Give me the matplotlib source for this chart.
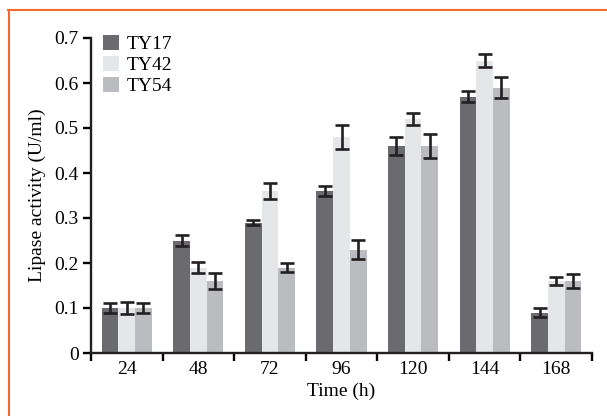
import matplotlib
matplotlib.use("Agg")
import matplotlib.pyplot as plt
import numpy as np
from matplotlib.lines import Line2D

# data
times = ["24", "48", "72", "96", "120", "144", "168"]
strains = ["TY17", "TY42", "TY54"]
ty17 = [0.10, 0.25, 0.29, 0.36, 0.46, 0.57, 0.09]
ty42 = [0.10, 0.19, 0.36, 0.48, 0.52, 0.65, 0.16]
ty54 = [0.10, 0.16, 0.19, 0.23, 0.46, 0.59, 0.16]
ty17_err = [0.012, 0.013, 0.006, 0.012, 0.021, 0.012, 0.009]
ty42_err = [0.013, 0.012, 0.018, 0.027, 0.014, 0.015, 0.008]
ty54_err = [0.012, 0.017, 0.011, 0.022, 0.027, 0.023, 0.016]
colors = ["#6b6b6f", "#e5e6e8", "#bbbcbf"]


def main():
    plt.rcParams["font.family"] = ["Liberation Serif", "DejaVu Serif"]
    plt.rcParams["font.size"] = 14

    fig = plt.figure(figsize=(6.07, 4.16), dpi=100)
    ax = fig.add_axes([91 / 607, 1 - 353 / 416, (592 - 91) / 607, (353 - 38) / 416])

    x = np.arange(len(times))
    w = 0.233
    series = [ty17, ty42, ty54]
    errs = [ty17_err, ty42_err, ty54_err]
    for i, (vals, err) in enumerate(zip(series, errs)):
        ax.bar(x + (i - 1) * w, vals, width=w, color=colors[i], label=strains[i],
               yerr=err, capsize=5, zorder=2,
               error_kw=dict(ecolor="#231f20", elinewidth=1.9, capthick=1.9))

    ax.set_xlim(-0.5, len(times) - 0.5)
    ax.set_ylim(0, 0.7)
    ax.set_yticks(np.arange(0, 0.71, 0.1))
    ax.set_yticklabels(["0", "0.1", "0.2", "0.3", "0.4", "0.5", "0.6", "0.7"])

    ax.set_xticks(x)
    ax.set_xticklabels(times)
    ax.set_xticks(np.arange(-0.5, len(times)), minor=True)
    ax.tick_params(axis="x", which="major", length=0, pad=6)
    ax.tick_params(axis="x", which="minor", length=6, width=1.7, direction="out")
    ax.tick_params(axis="y", length=6, width=1.7, direction="out", pad=3)

    for side in ["top", "right"]:
        ax.spines[side].set_visible(False)
    for side in ["left", "bottom"]:
        ax.spines[side].set_linewidth(1.7)
        ax.spines[side].set_color("#231f20")

    ax.set_xlabel("Time (h)", labelpad=3)
    ax.set_ylabel("Lipase activity (U/ml)", labelpad=6)

    ax.legend(loc="upper left", bbox_to_anchor=(0.024, 1.01), frameon=False,
              handlelength=0.8, handleheight=0.8, handletextpad=0.4,
              labelspacing=0.15, borderpad=0, borderaxespad=0)

    # orange frame around the figure (top and left only)
    fig.add_artist(Line2D([8 / 607, 1], [1 - 9.5 / 416] * 2, color="#f26a2e", lw=1.5,
                          transform=fig.transFigure))
    fig.add_artist(Line2D([8.5 / 607] * 2, [0, 1 - 9.5 / 416], color="#f26a2e", lw=1.5,
                          transform=fig.transFigure))

    fig.savefig("out.png", dpi=100)


if __name__ == "__main__":
    main()
